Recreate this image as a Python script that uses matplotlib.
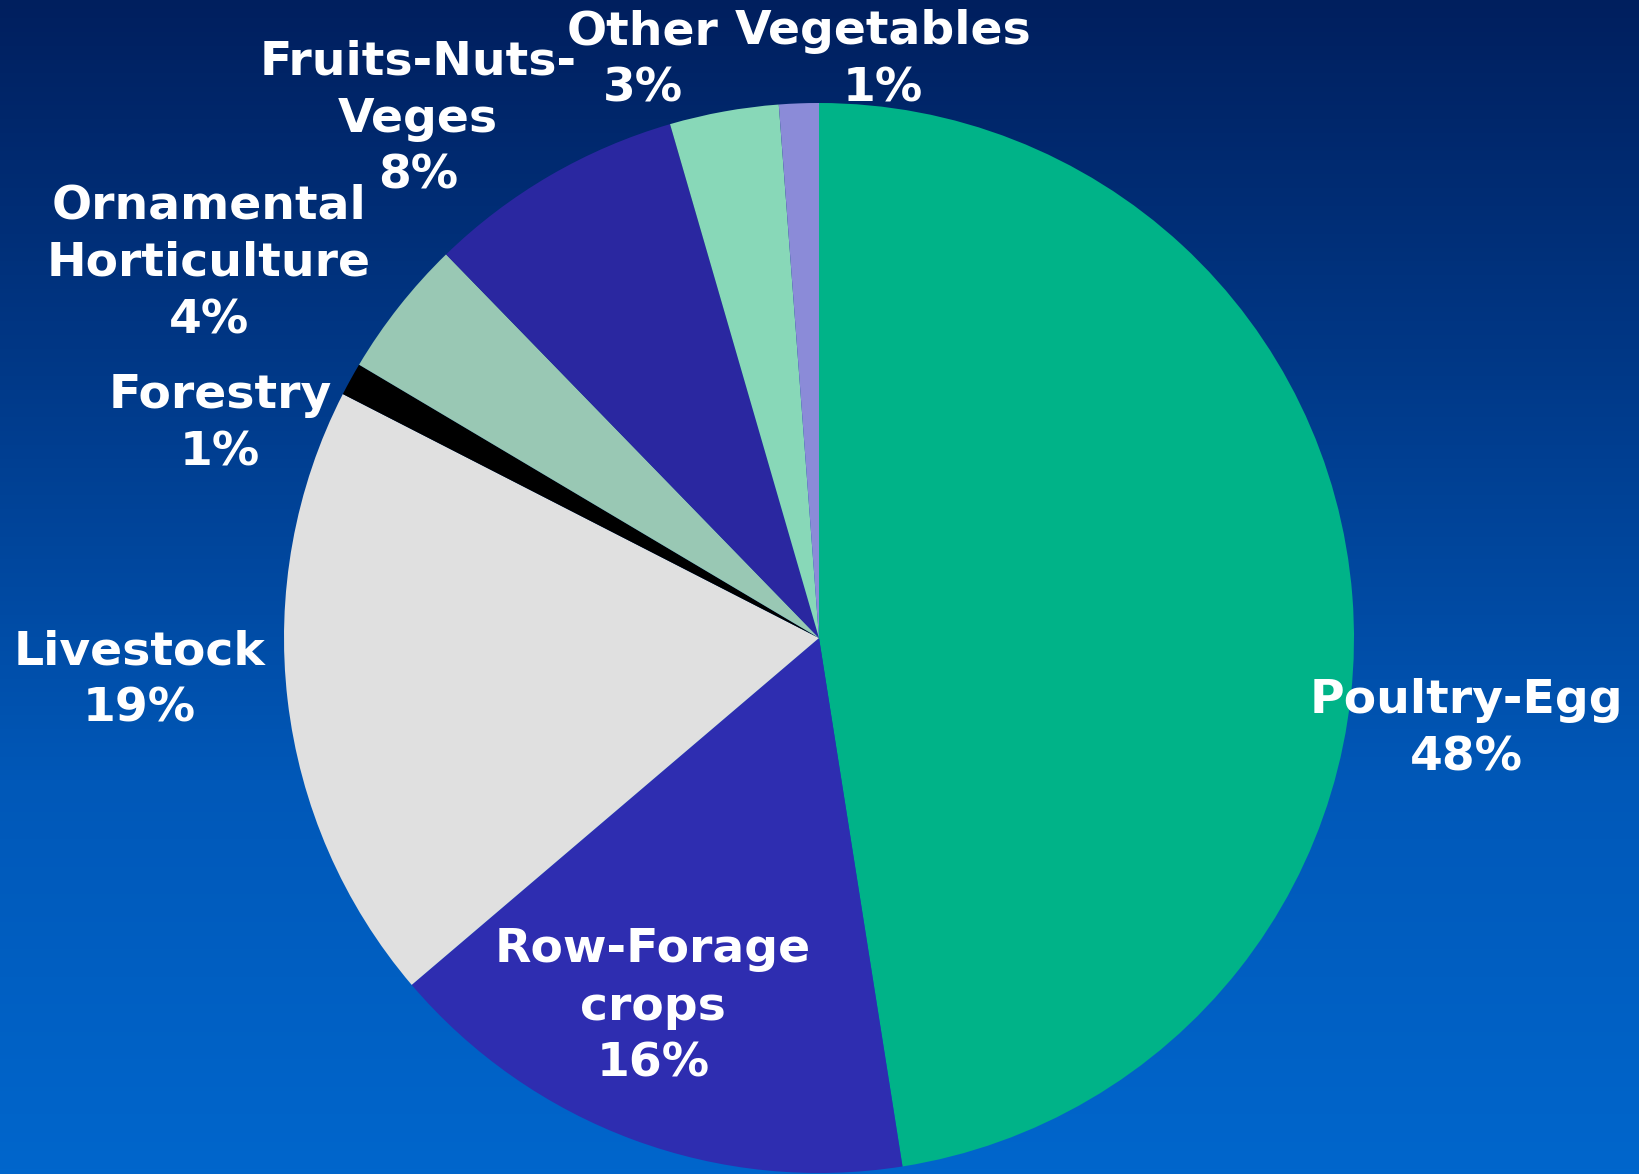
import matplotlib
matplotlib.use("Agg")
import matplotlib.pyplot as plt
import numpy as np
from matplotlib.colors import LinearSegmentedColormap

# slices, clockwise from 12 o'clock
categories = ["Poultry-Egg", "Row-Forage\ncrops", "Livestock", "Forestry",
              "Ornamental\nHorticulture", "Fruits-Nuts-\nVeges", "Other", "Vegetables"]
shares = [47.6, 16.3, 18.8, 1.0, 4.2, 7.8, 3.3, 1.2]
colors = ["#00B388", "#2E2DB0", "#E0E0E0", "#000000",
          "#99C8B4", "#2A27A0", "#88D8B8", "#8B8BD8"]

# label centres in pie-radius units (layout only)
label_pos = [(1.21, -0.17), (-0.31, -0.69), (-1.27, -0.08), (-1.12, 0.40),
             (-1.14, 0.70), (-0.75, 0.97), (-0.33, 1.08), (0.12, 1.08)]

W, H = 1640, 1174
fig = plt.figure(figsize=(W / 100, H / 100), dpi=100)

# vertical gradient background
bg = fig.add_axes([0, 0, 1, 1])
grad = np.linspace(0, 1, 256).reshape(-1, 1)
cmap = LinearSegmentedColormap.from_list("bg", ["#001F5E", "#003A8A", "#0058B8", "#0066CC"])
bg.imshow(grad, aspect="auto", cmap=cmap, extent=[0, 1, 0, 1], origin="upper")
bg.axis("off")

cx, cy, r = 819, 536, 535
ax = fig.add_axes([(cx - r) / W, (cy - r) / H, 2 * r / W, 2 * r / H])
ax.pie(shares, colors=colors, startangle=90, counterclock=False, radius=1,
       wedgeprops=dict(linewidth=0))
ax.set_xlim(-1, 1)
ax.set_ylim(-1, 1)
ax.set_aspect("equal")
ax.axis("off")

total = sum(shares)
for name, val, (lx, ly) in zip(categories, shares, label_pos):
    ax.text(lx, ly, f"{name}\n{round(val / total * 100):.0f}%", ha="center", va="center",
            color="white", fontsize=34, fontweight="bold", family="DejaVu Sans",
            linespacing=1.35, clip_on=False)

fig.savefig("out.png", dpi=100)
